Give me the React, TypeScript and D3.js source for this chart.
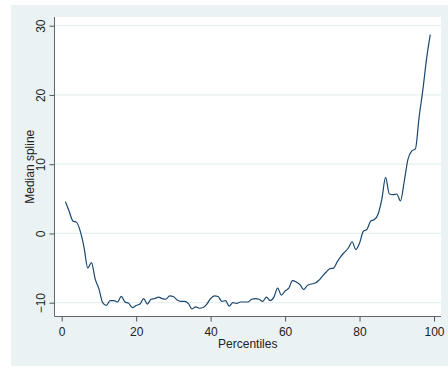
import { useEffect, useRef } from "react";
import * as d3 from "d3";

// percentile (1..99) -> median spline value
const percentiles = d3.range(1, 100);
const medianSpline = [
  4.6, 3.2, 1.8, 1.6, 0.3, -2.0, -5.0, -4.2, -6.6, -8.0,
  -10.0, -10.4, -9.7, -9.7, -9.9, -9.1, -9.9, -10.1, -10.7, -10.4,
  -10.2, -9.4, -10.2, -9.5, -9.4, -9.2, -9.4, -9.5, -9.0, -9.1,
  -9.6, -9.8, -9.8, -10.1, -10.9, -10.6, -10.8, -10.7, -10.2, -9.4,
  -9.0, -9.1, -9.8, -9.7, -10.5, -10.0, -10.1, -9.9, -9.9, -9.9,
  -9.5, -9.4, -9.5, -9.8, -9.2, -9.7, -9.2, -7.9, -8.9, -8.3,
  -7.9, -6.8, -7.0, -7.4, -8.1, -7.5, -7.3, -7.2, -6.8, -6.2,
  -5.6, -5.1, -5.0, -4.1, -3.3, -2.7, -2.1, -1.2, -2.3, -1.4,
  0.3, 0.6, 1.8, 2.0, 2.8, 5.0, 8.1, 5.7, 5.6, 5.7,
  4.7, 7.5, 10.7, 11.9, 12.2, 16.8, 20.7, 25.2, 28.7,
];
const xTicks = [0, 20, 40, 60, 80, 100];
const yTicks = [-10, 0, 10, 20, 30];

const W = 448;
const H = 369;
const BG = "#eaf2f3";
const FONT = "Liberation Sans, Arial, Helvetica, sans-serif";
// plot region edges
const P = { left: 54.5, right: 441, top: 17, bottom: 316.5 };

export default function App() {
  const ref = useRef<SVGSVGElement | null>(null);

  useEffect(() => {
    if (!ref.current) return;
    const svg = d3.select(ref.current);
    svg.selectAll("*").remove();

    const x = d3.scaleLinear().domain([0, 100]).range([61.7, 434]);
    const y = d3.scaleLinear().domain([-10, 30]).range([302.7, 25.7]);

    // graph region
    svg.append("rect").attr("x", 11).attr("y", 5).attr("width", W - 11).attr("height", 361).attr("fill", BG);
    // plot region
    svg.append("rect").attr("x", P.left).attr("y", P.top)
      .attr("width", P.right - P.left).attr("height", P.bottom - P.top).attr("fill", "#ffffff");

    // horizontal grid
    svg.append("g").selectAll("line").data(yTicks).join("line")
      .attr("x1", P.left).attr("x2", P.right)
      .attr("y1", d => y(d)).attr("y2", d => y(d))
      .attr("stroke", "#e8f0f2").attr("stroke-width", 1.2);

    // line
    const line = d3.line<number>()
      .x((_, i) => x(percentiles[i]))
      .y(d => y(d))
      .curve(d3.curveMonotoneX);
    svg.append("path").datum(medianSpline)
      .attr("fill", "none").attr("stroke", "#1a476f").attr("stroke-width", 1.2)
      .attr("d", line);

    // y axis
    const yAxis = svg.append("g").attr("transform", `translate(${P.left},0)`)
      .call(d3.axisLeft(y).tickValues(yTicks).tickSize(5).tickPadding(5).tickFormat(d3.format("d")));
    yAxis.select(".domain").attr("d", `M0,${P.top}V${P.bottom}`).attr("stroke", "#666");
    yAxis.selectAll(".tick line").attr("stroke", "#555");
    yAxis.selectAll("text")
      .attr("font-size", 12).attr("font-family", FONT).attr("fill", "#222")
      .attr("transform", "rotate(-90)")
      .attr("x", 0).attr("y", -10).attr("dy", 0)
      .attr("text-anchor", "middle");

    // x axis
    const xAxis = svg.append("g").attr("transform", `translate(0,${P.bottom})`)
      .call(d3.axisBottom(x).tickValues(xTicks).tickSize(5).tickPadding(5).tickFormat(d3.format("d")));
    xAxis.select(".domain").attr("d", `M${P.left},0H${P.right}`).attr("stroke", "#666");
    xAxis.selectAll(".tick line").attr("stroke", "#555");
    xAxis.selectAll("text")
      .attr("font-size", 12).attr("font-family", FONT).attr("fill", "#222")
      .attr("y", 19.5).attr("dy", 0);

    // axis titles
    svg.append("text").attr("x", (P.left + P.right) / 2).attr("y", 348)
      .attr("text-anchor", "middle").attr("font-size", 12).attr("font-family", FONT).attr("fill", "#222")
      .text("Percentiles");
    svg.append("text")
      .attr("transform", `translate(33.5,${(P.top + P.bottom) / 2}) rotate(-90)`)
      .attr("text-anchor", "middle").attr("font-size", 12).attr("font-family", FONT).attr("fill", "#222")
      .text("Median spline");
  }, []);

  return (
    <svg ref={ref} width={W} height={H}
      style={{ position: "fixed", left: 0, top: 0, display: "block", background: "#ffffff" }} />
  );
}
